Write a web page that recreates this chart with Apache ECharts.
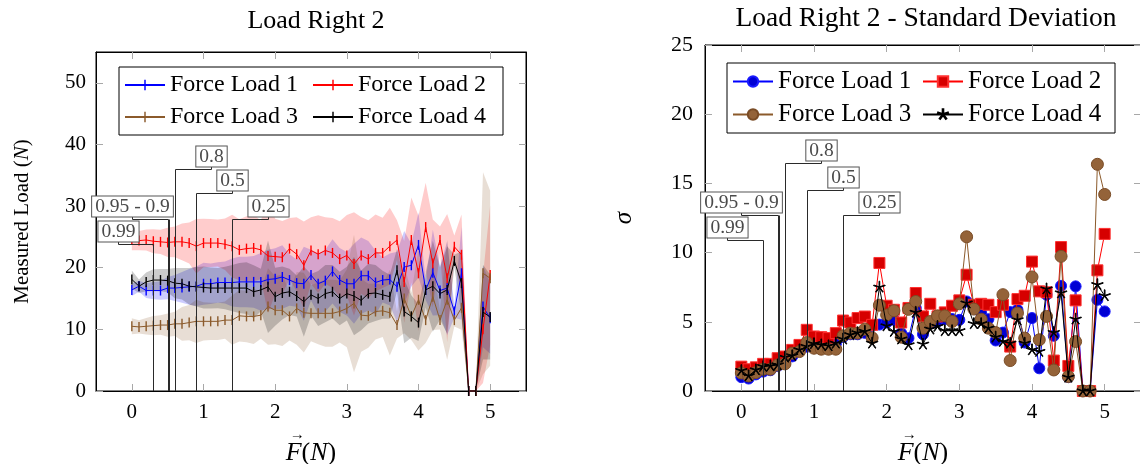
<!DOCTYPE html>
<html>
<head>
<meta charset="utf-8">
<script src="https://cdn.jsdelivr.net/npm/echarts@6/dist/echarts.min.js"></script>
<style>
  html, body { margin: 0; padding: 0; background: #ffffff; }
  #chart { width: 1140px; height: 464px; }
</style>
</head>
<body>
<div id="chart"></div>
<script>
// Applied force steps (N)
const forceSteps = [0.0, 0.1, 0.2, 0.3, 0.4, 0.5, 0.6, 0.7, 0.8, 0.9,
  1.0, 1.1, 1.2, 1.3, 1.4, 1.5, 1.6, 1.7, 1.8, 1.9,
  2.0, 2.1, 2.2, 2.3, 2.4, 2.5, 2.6, 2.7, 2.8, 2.9,
  3.0, 3.1, 3.2, 3.3, 3.4, 3.5, 3.6, 3.7, 3.8, 3.9,
  4.0, 4.1, 4.2, 4.3, 4.4, 4.5, 4.6, 4.7, 4.8, 4.9, 5.0];

const loadNames = ['Force Load 1', 'Force Load 2', 'Force Load 3', 'Force Load 4'];

// Mean measured load per force step (N)
const meanLoad1 = [16.4, 17.0, 16.3, 16.3, 16.3, 16.7, 16.7, 16.8, 16.9, 17.0,
  17.4, 17.4, 17.6, 17.6, 17.6, 17.7, 17.7, 17.7, 17.7, 18.1,
  18.2, 18.5, 18.0, 17.5, 17.4, 18.8, 17.4, 17.9, 19.4, 18.0,
  17.4, 17.4, 18.7, 18.7, 17.6, 18.0, 18.1, 16.9, 20.1, 20.4,
  23.7, 16.4, 19.2, 16.3, 16.7, 12.9, 19.1, 0, 0, 13.7, 11.8];
const meanLoad2 = [24.6, 24.4, 24.5, 24.3, 24.2, 24.1, 24.2, 24.2, 24.0, 23.5,
  24.0, 24.0, 24.0, 23.8, 23.5, 22.9, 23.1, 23.2, 22.9, 21.9,
  21.8, 21.7, 23.1, 22.2, 20.4, 22.8, 22.2, 22.8, 22.4, 21.4,
  22.0, 20.6, 22.0, 21.4, 22.4, 22.4, 23.5, 24.5, 17.7, 24.5,
  19.1, 26.6, 20.7, 24.5, 18.3, 23.4, 22.1, 0, 0, 10.0, 18.8];
const meanLoad3 = [10.5, 10.4, 10.5, 10.6, 10.7, 10.7, 10.9, 10.9, 11.1, 11.3,
  11.3, 11.3, 11.3, 11.5, 11.5, 12.2, 12.1, 12.1, 12.3, 13.7,
  13.1, 13.1, 12.1, 13.4, 12.7, 12.6, 12.6, 12.6, 12.6, 12.9,
  13.4, 14.2, 12.3, 12.2, 12.9, 13.0, 12.7, 10.7, 15.0, 12.1,
  14.8, 11.5, 15.3, 11.5, 14.8, 11.5, 13.5, 0, 0, 19.1, 18.3];
const meanLoad4 = [18.1, 17.0, 17.7, 18.0, 18.0, 17.9, 17.5, 17.4, 17.0, 16.9,
  16.8, 16.7, 16.7, 16.7, 16.7, 16.7, 16.7, 16.1, 16.4, 16.9,
  15.3, 15.9, 16.1, 15.4, 14.5, 15.6, 15.0, 15.8, 16.1, 15.0,
  15.8, 15.4, 14.7, 15.8, 15.9, 15.6, 15.3, 19.6, 12.9, 12.1,
  11.1, 16.4, 17.0, 15.8, 16.4, 21.1, 17.5, 0, 0, 12.8, 12.0];

// Standard deviation per force step
const sdLoad1 = [1.0, 0.9, 1.2, 1.4, 1.5, 1.8, 2.1, 2.5, 2.9, 3.2,
  3.4, 3.3, 3.3, 3.4, 3.9, 4.1, 4.1, 4.2, 4.7, 4.8,
  4.95, 5.14, 4.18, 3.82, 6.0, 4.1, 4.9, 5.02, 5.2, 5.2,
  5.14, 6.47, 6.2, 5.63, 5.19, 3.65, 4.22, 5.7, 5.87, 3.5,
  5.27, 1.64, 6.96, 3.99, 7.6, 1.0, 7.56, 0, 0, 6.59, 5.75];
const sdLoad2 = [1.76, 1.57, 1.71, 1.96, 1.96, 2.37, 2.49, 2.97, 3.33, 4.42,
  3.94, 3.89, 3.82, 4.18, 5.09, 4.95, 5.27, 5.38, 4.78, 9.25,
  6.16, 5.87, 4.95, 6.0, 7.08, 5.39, 6.3, 5.39, 5.68, 6.16,
  6.55, 8.4, 6.23, 6.3, 6.23, 5.7, 6.23, 3.21, 6.64, 6.88,
  9.35, 7.2, 7.13, 2.2, 10.4, 1.81, 6.55, 0, 0, 8.72, 11.35];
const sdLoad3 = [1.3, 1.09, 1.33, 1.57, 1.57, 1.88, 1.96, 2.73, 2.85, 3.5,
  3.09, 3.02, 3.02, 3.02, 3.99, 4.18, 4.18, 4.47, 3.84, 6.2,
  5.5, 5.8, 3.89, 5.9, 6.47, 4.54, 5.02, 5.43, 5.43, 5.02,
  6.3, 11.14, 5.92, 5.19, 4.54, 4.22, 6.96, 2.2, 5.63, 3.82,
  8.24, 3.7, 5.39, 1.52, 9.73, 1.04, 3.57, 0, 0, 16.38, 14.2];
const sdLoad4 = [1.47, 1.09, 1.52, 1.76, 1.81, 1.88, 2.44, 2.54, 2.97, 3.21,
  3.41, 3.33, 3.26, 3.45, 3.75, 4.06, 4.2, 4.3, 3.45, 7.5,
  4.7, 4.3, 3.75, 3.33, 5.68, 3.38, 4.47, 4.66, 4.35, 4.35,
  4.35, 6.35, 4.86, 4.86, 4.54, 3.89, 3.57, 3.45, 5.14, 3.45,
  2.97, 2.85, 7.37, 4.22, 7.08, 0.99, 5.19, 0, 0, 7.68, 6.88];

// Threshold pins: label, force positions, label offset along x (N)
const pinLabels = ['0.99', '0.95 - 0.9', '0.8', '0.5', '0.25'];
const pinForces = [[0.3], [0.5, 0.52], [0.6], [0.9], [1.4]];
const pinLabelShift = [-0.5, -0.5, 0.5, 0.5, 0.5];
const pinHeightLoad = [23.9, 27.9, 36.0, 32.1, 27.9];
const pinHeightSd = [10.9, 12.75, 16.45, 14.5, 12.75];

const xTickValues = [0, 1, 2, 3, 4, 5];
const loadTickValues = [0, 10, 20, 30, 40, 50];

const meanLoads = [meanLoad1, meanLoad2, meanLoad3, meanLoad4];
const sdLoads = [sdLoad1, sdLoad2, sdLoad3, sdLoad4];

const FONT = "'Liberation Serif', 'DejaVu Serif', serif";
const lineColors = ['#0000ff', '#ff0000', '#8b5a2b', '#000000'];
const bandColors = ['rgba(0,0,255,0.2)', 'rgba(255,0,0,0.2)', 'rgba(139,90,43,0.2)', 'rgba(0,0,0,0.2)'];

// vertical bar mark, padded to a square box so legend icons keep its shape
const barMark = 'path://M0,0M10,10M4.3,0L5.7,0L5.7,10L4.3,10Z';
// five-armed asterisk mark made of thin spokes
const starMark = (function () {
  let d = 'M-10,-10M10,10';
  for (let j = 0; j < 5; j++) {
    const a = (-90 + 72 * j) * Math.PI / 180;
    const cx = Math.cos(a), cy = Math.sin(a);
    const nx = -cy * 0.6, ny = cx * 0.6;
    const tx = cx * 10, ty = cy * 10;
    d += 'M' + nx.toFixed(2) + ',' + ny.toFixed(2) +
      'L' + (tx + nx).toFixed(2) + ',' + (ty + ny).toFixed(2) +
      'L' + (tx - nx).toFixed(2) + ',' + (ty - ny).toFixed(2) +
      'L' + (-nx).toFixed(2) + ',' + (-ny).toFixed(2) + 'Z';
  }
  return 'path://' + d;
})();

const sdMarks = [
  { symbol: 'circle', size: 11, fill: '#0000d4', stroke: '#1a1aff', line: '#0000ff' },
  { symbol: 'rect', size: 11, fill: '#d60000', stroke: '#ff3030', line: '#ff0000' },
  { symbol: 'circle', size: 12, fill: '#946339', stroke: '#7a4c26', line: '#8b5a2b' },
  { symbol: starMark, size: 12, fill: '#000000', stroke: '#000000', line: '#000000' }
];

const tickStyle = { inside: true, length: 7, lineStyle: { color: '#a8a8a8', width: 1 } };
const labelFont = { fontFamily: FONT, fontSize: 21, color: '#000' };

function xAxisPair(gridIndex) {
  return [
    {
      type: 'value', gridIndex, min: -0.5, max: 5.5, position: 'bottom',
      axisLine: { show: true, onZero: false, lineStyle: { color: '#000', width: 1 } },
      axisTick: Object.assign({ customValues: xTickValues }, tickStyle),
      axisLabel: Object.assign({ customValues: xTickValues, margin: 11 }, labelFont),
      splitLine: { show: false },
      name: '{a|→}\n{i|F}{r|(}{i|N}{r|)}', nameLocation: 'middle', nameGap: 35,
      nameTextStyle: {
        rich: {
          a: { fontFamily: FONT, fontSize: 15, lineHeight: 9, align: 'left', padding: [0, 0, 0, 4], color: '#000' },
          i: { fontFamily: FONT, fontSize: 26, lineHeight: 27, fontStyle: 'italic', align: 'left', color: '#000' },
          r: { fontFamily: FONT, fontSize: 26, lineHeight: 27, align: 'left', color: '#000' }
        }
      }
    },
    {
      type: 'value', gridIndex, min: -0.5, max: 5.5, position: 'top',
      axisLine: { show: true, onZero: false, lineStyle: { color: '#000', width: 1 } },
      axisTick: Object.assign({ customValues: xTickValues }, tickStyle),
      axisLabel: { show: false }, splitLine: { show: false }
    }
  ];
}

function meanSeries(i) {
  return {
    name: loadNames[i], type: 'line', xAxisIndex: 0, yAxisIndex: 0,
    data: forceSteps.map((x, k) => [x, meanLoads[i][k]]),
    symbol: barMark, symbolSize: 10,
    lineStyle: { color: lineColors[i], width: 1 },
    itemStyle: { color: lineColors[i] },
    z: 3, animation: false, clip: false
  };
}

function bandSeries(i) {
  return {
    type: 'custom', xAxisIndex: 0, yAxisIndex: 0, z: 1, silent: true,
    data: [[forceSteps[0], meanLoads[i][0]]],
    renderItem: function (params, api) {
      const upper = forceSteps.map((x, k) => api.coord([x, meanLoads[i][k] + sdLoads[i][k]]));
      const lower = forceSteps.map((x, k) => api.coord([x, meanLoads[i][k] - sdLoads[i][k]])).reverse();
      return { type: 'polygon', shape: { points: upper.concat(lower) }, style: { fill: bandColors[i] } };
    },
    animation: false
  };
}

function sdSeries(i) {
  const m = sdMarks[i];
  return {
    name: loadNames[i] + ' ', type: 'line', xAxisIndex: 2, yAxisIndex: 2,
    data: forceSteps.map((x, k) => [x, sdLoads[i][k]]),
    symbol: m.symbol, symbolSize: m.size,
    lineStyle: { color: m.line, width: 1 },
    itemStyle: { color: m.fill, borderColor: m.stroke, borderWidth: 1 },
    z: 3 + i, animation: false, clip: false
  };
}

function pinSeries(xAxisIndex, yAxisIndex, heights) {
  return {
    type: 'custom', xAxisIndex, yAxisIndex, z: 10, silent: true, animation: false,
    data: pinForces.map((f, i) => [f[0], heights[i]]),
    renderItem: function (params, api) {
      const i = params.dataIndex;
      const h = heights[i];
      const children = [];
      pinForces[i].forEach(function (x) {
        const p0 = api.coord([x, 0]);
        const p1 = api.coord([x, h]);
        children.push({
          type: 'line',
          shape: { x1: Math.round(p0[0]) + 0.5, y1: p0[1], x2: Math.round(p1[0]) + 0.5, y2: Math.round(p1[1]) + 0.5 },
          style: { stroke: '#2a2a2a', lineWidth: 1 }
        });
      });
      const a = api.coord([pinForces[i][0], h]);
      const b = api.coord([pinForces[i][0] + pinLabelShift[i], h]);
      const ax = Math.round(a[0]) + 0.5, bx = Math.round(b[0]) + 0.5, y = Math.round(a[1]) + 0.5;
      children.push({
        type: 'polyline',
        shape: { points: [[ax, y], [bx, y], [bx, y - 3]] },
        style: { stroke: '#2a2a2a', fill: null, lineWidth: 1 }
      });
      children.push({
        type: 'text',
        style: {
          text: pinLabels[i], x: bx, y: y - 3, align: 'center', verticalAlign: 'bottom',
          fill: '#4a4a4a', fontFamily: FONT, fontSize: 19.5,
          backgroundColor: '#ffffff', borderColor: '#555555', borderWidth: 1,
          padding: [0, 3, 0, 3]
        }
      });
      return { type: 'group', children };
    }
  };
}

const chart = echarts.init(document.getElementById('chart'), null, { renderer: 'canvas' });

const series = [];
for (let i = 0; i < 4; i++) series.push(bandSeries(i));
for (let i = 0; i < 4; i++) series.push(meanSeries(i));
series.push(pinSeries(0, 0, pinHeightLoad));
for (let i = 0; i < 4; i++) series.push(sdSeries(i));
series.push(pinSeries(2, 2, pinHeightSd));

chart.setOption({
  backgroundColor: '#ffffff',
  animation: false,
  title: [
    { text: 'Load Right 2', left: 311, top: 3, textAlign: 'center',
      textStyle: { fontFamily: FONT, fontSize: 26, fontWeight: 'normal', color: '#000' } },
    { text: 'Load Right 2 - Standard Deviation', left: 921, top: 0, textAlign: 'center',
      textStyle: { fontFamily: FONT, fontSize: 27.5, fontWeight: 'normal', color: '#000' } }
  ],
  grid: [
    { left: 96, top: 52, width: 430, height: 339, show: true, borderColor: '#000', borderWidth: 1,
      backgroundColor: 'transparent', outerBoundsMode: 'none', containLabel: false },
    { left: 705, top: 45, width: 436, height: 346, show: true, borderColor: '#000', borderWidth: 1,
      backgroundColor: 'transparent', outerBoundsMode: 'none', containLabel: false }
  ],
  legend: [
    {
      data: loadNames, left: 119, top: 67, width: 378, orient: 'horizontal',
      padding: [3, 5, 3, 5], itemGap: 2, itemWidth: 40, itemHeight: 13,
      borderColor: '#000', borderWidth: 1, backgroundColor: '#fff',
      textStyle: { fontFamily: FONT, fontSize: 24, color: '#000', width: 140, lineHeight: 30 },
      selectedMode: false
    },
    {
      data: loadNames.map(n => n + ' '), left: 727, top: 63, width: 382, orient: 'horizontal',
      padding: [3, 5, 3, 5], itemGap: 2, itemWidth: 40, itemHeight: 13,
      borderColor: '#000', borderWidth: 1, backgroundColor: '#fff',
      textStyle: { fontFamily: FONT, fontSize: 25, color: '#000', width: 142, lineHeight: 31 },
      selectedMode: false
    }
  ],
  xAxis: xAxisPair(0).concat(xAxisPair(1)),
  yAxis: [
    {
      type: 'value', gridIndex: 0, min: 0, max: 55, position: 'left',
      axisLine: { show: true, onZero: false, lineStyle: { color: '#000', width: 1 } },
      axisTick: Object.assign({ customValues: loadTickValues }, tickStyle),
      axisLabel: Object.assign({ customValues: loadTickValues, margin: 10 }, labelFont),
      splitLine: { show: false },
      name: 'Measured Load ({i|N})', nameLocation: 'middle', nameGap: 63,
      nameTextStyle: {
        fontFamily: FONT, fontSize: 21, color: '#000',
        rich: { i: { fontFamily: FONT, fontSize: 21, fontStyle: 'italic', color: '#000' } }
      }
    },
    {
      type: 'value', gridIndex: 0, min: 0, max: 55, position: 'right',
      axisLine: { show: true, onZero: false, lineStyle: { color: '#000', width: 1 } },
      axisTick: Object.assign({ customValues: loadTickValues }, tickStyle),
      axisLabel: { show: false }, splitLine: { show: false }
    },
    {
      type: 'value', gridIndex: 1, min: 0, max: 25, interval: 5, position: 'left',
      axisLine: { show: true, onZero: false, lineStyle: { color: '#000', width: 1 } },
      axisTick: tickStyle,
      axisLabel: Object.assign({}, labelFont, { margin: 12, fontSize: 22 }),
      splitLine: { show: false },
      name: 'σ', nameLocation: 'middle', nameGap: 68,
      nameTextStyle: { fontFamily: FONT, fontSize: 25, fontStyle: 'italic', color: '#000' }
    },
    {
      type: 'value', gridIndex: 1, min: 0, max: 25, interval: 5, position: 'right',
      axisLine: { show: true, onZero: false, lineStyle: { color: '#000', width: 1 } },
      axisTick: tickStyle,
      axisLabel: { show: false }, splitLine: { show: false }
    }
  ],
  series: series
});
</script>
</body>
</html>
